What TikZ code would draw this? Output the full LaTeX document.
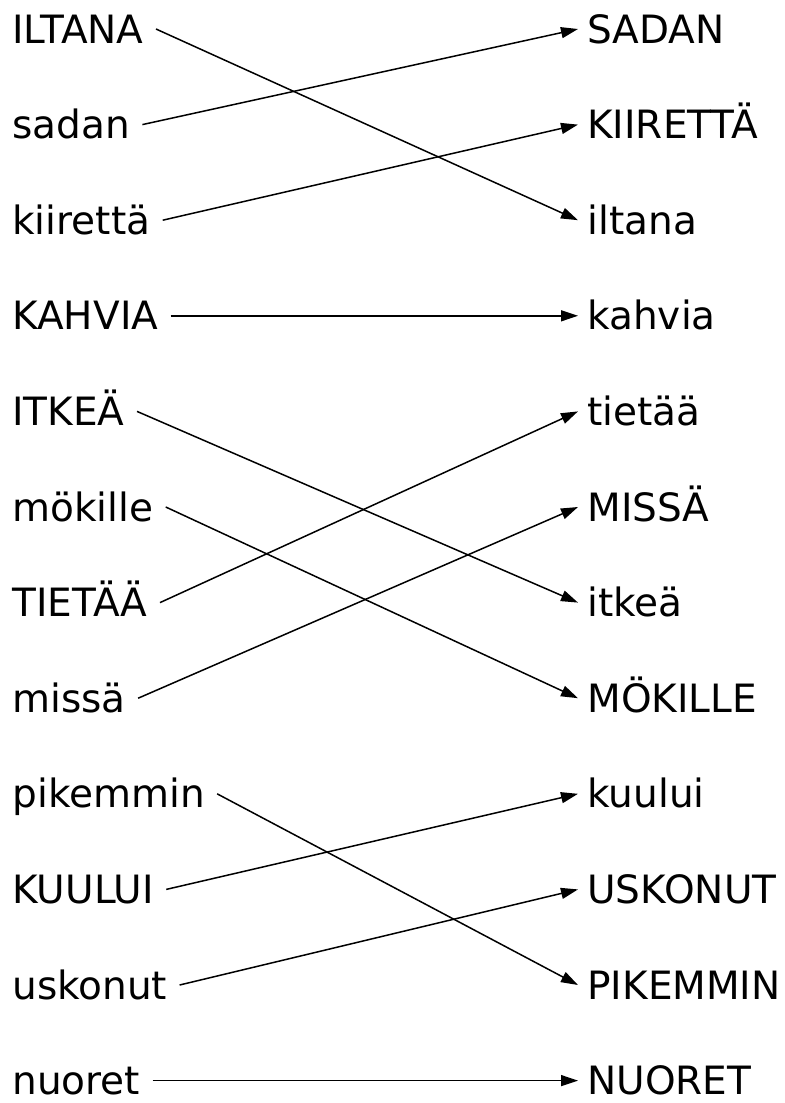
\documentclass[tikz,border=0pt]{standalone}
\usepackage{fontspec}
\setmainfont{DejaVu Sans}
\usepackage{tikz}
\usetikzlibrary{arrows.meta, positioning}
\tikzstyle{arrow} = [line width=0.75pt, -{Triangle[length=8.5pt, width=5.5pt]}]
\tikzstyle{leftword} = [anchor=base west, inner xsep=6pt, inner ysep=0pt, text height=14pt, text depth=0pt, font=\fontsize{19.5}{20}\selectfont]
\tikzstyle{rightword} = [anchor=base west, inner xsep=4.5pt, inner ysep=0pt, text height=14pt, text depth=0pt, font=\fontsize{19.5}{20}\selectfont]

\begin{document}
\begin{tikzpicture}[x=1pt, y=1pt]
\useasboundingbox (0,0) rectangle (392,-551.5);

% left column
\node[leftword] (l0) at (0,-21.5) {ILTANA};
\node[leftword] (l1) at (0,-69.3) {sadan};
\node[leftword] (l2) at (0,-117.1) {kiirettä};
\node[leftword] (l3) at (0,-164.9) {KAHVIA};
\node[leftword] (l4) at (0,-212.7) {ITKEÄ};
\node[leftword] (l5) at (0,-260.5) {mökille};
\node[leftword] (l6) at (0,-308.3) {TIETÄÄ};
\node[leftword] (l7) at (0,-356.1) {missä};
\node[leftword] (l8) at (0,-403.9) {pikemmin};
\node[leftword] (l9) at (0,-451.7) {KUULUI};
\node[leftword] (l10) at (0,-499.5) {uskonut};
\node[leftword] (l11) at (0,-547.3) {nuoret};

% right column
\node[rightword] (r0) at (289,-21.5) {SADAN};
\node[rightword] (r1) at (289,-69.3) {KIIRETTÄ};
\node[rightword] (r2) at (289,-117.1) {iltana};
\node[rightword] (r3) at (289,-164.9) {kahvia};
\node[rightword] (r4) at (289,-212.7) {tietää};
\node[rightword] (r5) at (289,-260.5) {MISSÄ};
\node[rightword] (r6) at (289,-308.3) {itkeä};
\node[rightword] (r7) at (289,-356.1) {MÖKILLE};
\node[rightword] (r8) at (289,-403.9) {kuului};
\node[rightword] (r9) at (289,-451.7) {USKONUT};
\node[rightword] (r10) at (289,-499.5) {PIKEMMIN};
\node[rightword] (r11) at (289,-547.3) {NUORET};

% matches
\draw[arrow] (l0.east) -- (r2.west);
\draw[arrow] (l1.east) -- (r0.west);
\draw[arrow] (l2.east) -- (r1.west);
\draw[arrow] (l3.east) -- (r3.west);
\draw[arrow] (l4.east) -- (r6.west);
\draw[arrow] (l5.east) -- (r7.west);
\draw[arrow] (l6.east) -- (r4.west);
\draw[arrow] (l7.east) -- (r5.west);
\draw[arrow] (l8.east) -- (r10.west);
\draw[arrow] (l9.east) -- (r8.west);
\draw[arrow] (l10.east) -- (r9.west);
\draw[arrow] (l11.east) -- (r11.west);

\end{tikzpicture}
\end{document}
